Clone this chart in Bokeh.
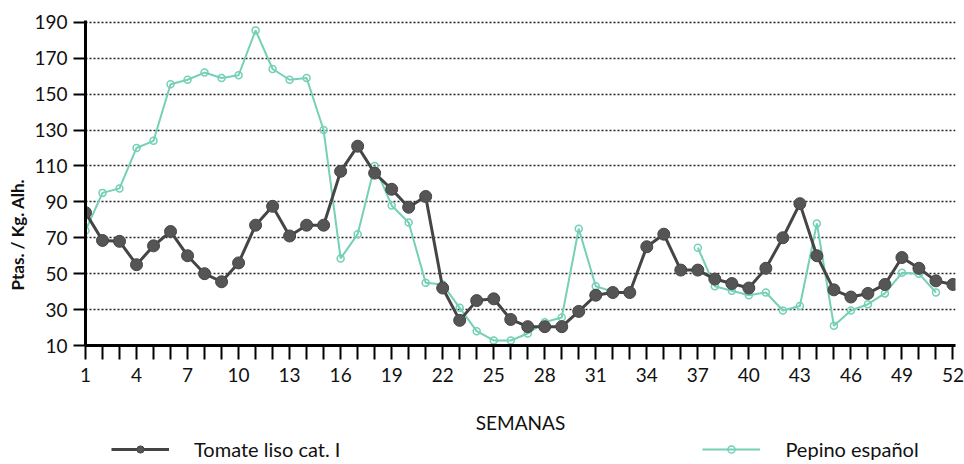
import math
from bokeh.plotting import figure
from bokeh.layouts import column
from bokeh.models import FixedTicker, Range1d, Title, Legend, LegendItem, ColumnDataSource
from bokeh.embed import file_html
from bokeh.resources import INLINE

nan = float("nan")

weeks = list(range(1, 53))
tick_weeks = list(range(1, 53))
label_weeks = list(range(1, 53, 3))
y_ticks = [10, 30, 50, 70, 90, 110, 130, 150, 170, 190]
grid_ticks = [30, 50, 70, 90, 110, 130, 150, 170, 190]

tomate = [84, 68.5, 68, 55, 65.5, 73.5, 60, 50, 45.5, 56,
          77, 87.5, 71, 77, 77, 107, 121, 106, 97, 87,
          93, 42, 24, 35, 36, 24.5, 20.5, 20.5, 20.5, 29,
          38, 39.5, 39.5, 65, 72, 52, 52, 47, 44.5, 42,
          53, 70, 89, 60, 41, 37, 39, 44, 59, 53,
          46, 44]

pepino = [74, 95, 97.5, 120, 124, 155.5, 158, 162, 159, 160.5,
          185.5, 164, 158, 159, 130, 58.5, 72, 110, 88, 78.5,
          45, 44, 31, 18, 12.8, 12.8, 16.7, 23, 25.6, 75,
          43, 40, nan, nan, nan, nan, 64.5, 43, 40.5, 38,
          39.5, 29.5, 32, 78, 21, 29.5, 33, 39, 50.5, 50,
          39.5, nan]

FONT = "Lato"
DARK = "#454545"
TEAL = "#74d0b6"
TXT = "#111111"

src = ColumnDataSource(dict(week=weeks, tomate=tomate, pepino=pepino))

p = figure(width=964, height=438, output_backend="svg", toolbar_location=None,
           x_range=Range1d(1, 52.15), y_range=Range1d(10, 191),
           min_border_left=85, min_border_right=9, min_border_top=20, min_border_bottom=93)
p.outline_line_color = None
p.background_fill_color = "white"
p.border_fill_color = "white"

# pepino (drawn first, below tomato)
pep_line = p.line("week", "pepino", source=src, line_color=TEAL, line_width=2)
pep_pts = p.scatter("week", "pepino", source=src, marker="circle", size=7,
                    fill_alpha=0, line_color=TEAL, line_width=1.5)

tom_line = p.line("week", "tomate", source=src, line_color=DARK, line_width=3)
tom_pts = p.scatter("week", "tomate", source=src, marker="circle", size=12,
                    fill_color="#555555", line_color=DARK, line_width=1)

# axes
p.xaxis.ticker = FixedTicker(ticks=tick_weeks)
p.xaxis.major_label_overrides = {w: ("" if w not in label_weeks else str(w)) for w in tick_weeks}
p.yaxis.ticker = FixedTicker(ticks=y_ticks)
for ax in (p.xaxis, p.yaxis):
    ax.axis_line_width = 3
    ax.axis_line_color = "black"
    ax.major_tick_line_width = 2
    ax.major_tick_line_color = "black"
    ax.major_tick_in = 0
    ax.minor_tick_line_color = None
    ax.major_label_text_font = FONT
    ax.major_label_text_font_size = "19px"
    ax.major_label_text_color = TXT
p.xaxis.major_tick_out = 14
p.xaxis.major_label_standoff = 8
p.yaxis.major_tick_out = 12
p.yaxis.major_label_standoff = 6

p.xaxis.axis_label = "SEMANAS"
p.xaxis.axis_label_text_font = FONT
p.xaxis.axis_label_text_font_style = "normal"
p.xaxis.axis_label_text_font_size = "19px"
p.xaxis.axis_label_text_color = TXT
p.xaxis.axis_label_standoff = 26

p.xgrid.grid_line_color = None
p.ygrid.ticker = FixedTicker(ticks=grid_ticks)
p.ygrid.grid_line_color = "#222222"
p.ygrid.grid_line_width = 1.5
p.ygrid.grid_line_dash = "2 2"

# y axis title in the left panel, shifted down along the axis
p.add_layout(Title(text="Ptas. / Kg. Alh.", align="left", offset=55, standoff=8,
                   text_font=FONT, text_font_style="bold", text_font_size="17px",
                   text_color=TXT), "left")

# legend strip below the chart (its frame is aligned with the chart's frame)
p2 = figure(width=964, height=26, output_backend="svg", toolbar_location=None,
            x_range=Range1d(0, 1), y_range=Range1d(0, 1),
            x_axis_location=None, y_axis_location=None, min_border=0)
p2.outline_line_color = None
p2.grid.visible = False
p2.background_fill_color = "white"
p2.border_fill_color = "white"
lt = p2.line(x=[nan], y=[nan], line_color=DARK, line_width=3)
lt_pts = p2.scatter(x=[nan], y=[nan], marker="circle", size=12, fill_color="#555555",
                    line_color=DARK, line_width=1)
lp = p2.line(x=[nan], y=[nan], line_color=TEAL, line_width=2)
lp_pts = p2.scatter(x=[nan], y=[nan], marker="circle", size=7, fill_alpha=0,
                    line_color=TEAL, line_width=1.5)

leg = Legend(items=[LegendItem(label="Tomate liso cat. I", renderers=[lt, lt_pts]),
                    LegendItem(label="Pepino español", renderers=[lp, lp_pts])],
             orientation="horizontal", location=(26, 3), glyph_width=58, glyph_height=18,
             label_height=18, label_standoff=25, spacing=362, padding=0, margin=0,
             border_line_alpha=0, background_fill_alpha=0, label_text_font=FONT,
             label_text_font_size="20px", label_text_color=TXT)
p2.add_layout(leg)

layout = column(p, p2, spacing=0)
open("out.html", "w").write(file_html(layout, INLINE))
